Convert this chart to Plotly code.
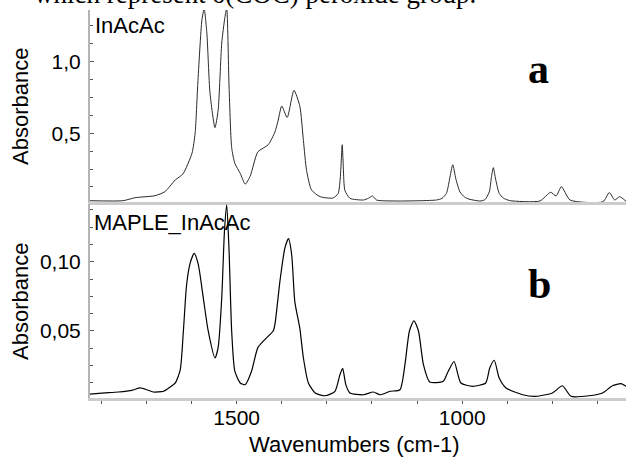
import plotly.graph_objects as go

# ---- data ----
wn_top = [1825, 1752, 1725, 1681, 1659, 1636, 1619, 1599, 1592, 1586, 1577, 1572, 1566, 1559,
          1548, 1541, 1533, 1526, 1522, 1517, 1511, 1504, 1492, 1481, 1470, 1453, 1430, 1415,
          1408, 1400, 1388, 1373, 1360, 1352, 1345, 1334, 1315, 1286, 1275, 1270, 1267, 1266,
          1264, 1262, 1260, 1249, 1219, 1208, 1199, 1190, 1145, 1057, 1045, 1035, 1028, 1021,
          1014, 1005, 995, 985, 961, 950, 940, 935, 931, 926, 918, 909, 895, 828, 804, 792,
          780, 761, 688, 674, 662, 651, 637]
abs_top = [0.029, 0.029, 0.05, 0.064, 0.092, 0.174, 0.216, 0.36, 0.5, 0.85, 1.29, 1.37, 1.2, 0.78,
           0.54, 0.66, 1.13, 1.31, 1.37, 0.85, 0.40, 0.29, 0.22, 0.145, 0.2, 0.37, 0.42, 0.51,
           0.59, 0.69, 0.61, 0.80, 0.69, 0.45, 0.24, 0.104, 0.057, 0.048, 0.08, 0.2, 0.38, 0.42,
           0.3, 0.15, 0.1, 0.046, 0.034, 0.046, 0.062, 0.034, 0.027, 0.034, 0.045, 0.08, 0.18, 0.28,
           0.18, 0.09, 0.055, 0.04, 0.027, 0.035, 0.09, 0.2, 0.26, 0.18, 0.08, 0.048, 0.03, 0.027,
           0.088, 0.062, 0.127, 0.034, 0.022, 0.086, 0.034, 0.057, 0.025]

wn_bot = [1825, 1792, 1762, 1732, 1714, 1699, 1685, 1662, 1648, 1636, 1625, 1618, 1611, 1603,
          1594, 1585, 1574, 1563, 1548, 1541, 1533, 1527, 1522, 1517, 1511, 1504, 1492, 1481,
          1467, 1453, 1437, 1419, 1415, 1404, 1393, 1385, 1378, 1371, 1360, 1352, 1341, 1326,
          1304, 1282, 1271, 1265, 1258, 1249, 1219, 1197, 1182, 1160, 1138, 1127, 1117, 1107,
          1097, 1086, 1072, 1042, 1031, 1018, 1003, 977, 948, 939, 929, 918, 903, 866, 837,
          800, 778, 759, 719, 689, 667, 648, 637]
abs_bot = [0.0045, 0.0053, 0.006, 0.0072, 0.0089, 0.0076, 0.006, 0.0065, 0.0094, 0.0125, 0.022,
           0.05, 0.083, 0.099, 0.106, 0.098, 0.074, 0.05, 0.0305, 0.038, 0.074, 0.122, 0.141,
           0.11, 0.05, 0.021, 0.0125, 0.0113, 0.021, 0.038, 0.044, 0.05, 0.055, 0.086, 0.11,
           0.1166, 0.105, 0.071, 0.052, 0.0305, 0.0125, 0.0053, 0.0033, 0.0065, 0.0185, 0.023,
           0.0113, 0.0053, 0.004, 0.006, 0.004, 0.0065, 0.0076, 0.0257, 0.05, 0.0574, 0.05,
           0.0257, 0.0132, 0.0137, 0.021, 0.028, 0.0125, 0.0101, 0.0125, 0.0233, 0.0289, 0.016,
           0.0089, 0.004, 0.0029, 0.0053, 0.0105, 0.0029, 0.0033, 0.0053, 0.0105, 0.012, 0.0101]

x_ticks = [1500, 1000]
x_ticklabels = ["1500", "1000"]
y_top_ticks = [0.5, 1.0]
y_top_labels = ["0,5", "1,0"]
y_bot_ticks = [0.05, 0.10]
y_bot_labels = ["0,05", "0,10"]

W, H = 626, 457
def px(x):
    return x / W
def py(y):
    return 1 - y / H

fig = go.Figure()
fig.add_trace(go.Scatter(x=wn_top, y=abs_top, mode="lines", xaxis="x", yaxis="y",
                         line=dict(color="#2a2a2a", width=1, shape="spline", smoothing=0.6),
                         showlegend=False, hoverinfo="skip"))
fig.add_trace(go.Scatter(x=wn_bot, y=abs_bot, mode="lines", xaxis="x2", yaxis="y2",
                         line=dict(color="#000000", width=1.2, shape="spline", smoothing=0.6),
                         showlegend=False, hoverinfo="skip"))

tickfont = dict(family="Liberation Sans, Arial", size=21, color="#000")
xr = [1825, 637]
fig.update_layout(
    width=W, height=H,
    margin=dict(l=0, r=0, t=0, b=0),
    paper_bgcolor="white", plot_bgcolor="white",
    xaxis=dict(domain=[px(90), 1], anchor="y", range=xr, showgrid=False, zeroline=False,
               showline=True, linecolor="#cccccc", linewidth=3, showticklabels=False, ticks=""),
    yaxis=dict(domain=[py(202), py(10)], anchor="x", range=[0.02, 1.361], showgrid=False,
               zeroline=False, showline=True, linecolor="#b4b4b4", linewidth=2,
               tickmode="array", tickvals=y_top_ticks, ticktext=y_top_labels,
               ticks="inside", ticklen=4, tickcolor="#555", tickfont=tickfont,
               ticklabelstandoff=3,
               minor=dict(tickmode="linear", tick0=0, dtick=0.125, ticks="inside",
                          ticklen=3, tickcolor="#555")),
    xaxis2=dict(domain=[px(90), 1], anchor="y2", range=xr, showgrid=False, zeroline=False,
                showline=True, linecolor="#cccccc", linewidth=3,
                tickmode="array", tickvals=x_ticks, ticktext=x_ticklabels,
                ticks="outside", ticklen=3, tickcolor="#555", tickfont=tickfont,
                ticklabelstandoff=-4,
                minor=dict(tickmode="linear", tick0=0, dtick=100, ticks="outside",
                           ticklen=3, tickcolor="#555")),
    yaxis2=dict(domain=[py(398), py(204)], anchor="x2", range=[0.00166, 0.1416], showgrid=False,
                zeroline=False, showline=True, linecolor="#b4b4b4", linewidth=2,
                tickmode="array", tickvals=y_bot_ticks, ticktext=y_bot_labels,
                ticks="inside", ticklen=4, tickcolor="#555", tickfont=tickfont,
                ticklabelstandoff=3,
                minor=dict(tickmode="linear", tick0=0, dtick=0.0125, ticks="inside",
                           ticklen=3, tickcolor="#555")),
)

lab = dict(family="Liberation Sans, Arial", size=22, color="#000")
ann = [
    dict(text="which represent δ(COC) peroxide group.", x=px(32), y=py(-6), xanchor="left",
         yanchor="middle", font=dict(family="Liberation Serif, Times New Roman", size=27, color="#000")),
    dict(text="InAcAc", x=px(93), y=py(25.5), xanchor="left", yanchor="middle", font=lab),
    dict(text="MAPLE_InAcAc", x=px(92), y=py(222.5), xanchor="left", yanchor="middle", font=lab),
    dict(text="<b>a</b>", x=px(538), y=py(69), xanchor="center", yanchor="middle",
         font=dict(family="Liberation Serif, Times New Roman", size=42, color="#000")),
    dict(text="<b>b</b>", x=px(539), y=py(284), xanchor="center", yanchor="middle",
         font=dict(family="Liberation Serif, Times New Roman", size=42, color="#000")),
    dict(text="Absorbance", x=px(20), y=py(107), xanchor="center", yanchor="middle",
         textangle=-90, font=lab),
    dict(text="Absorbance", x=px(20), y=py(302), xanchor="center", yanchor="middle",
         textangle=-90, font=lab),
    dict(text="Wavenumbers (cm-1)", x=px(354), y=py(444), xanchor="center", yanchor="middle",
         font=lab),
]
for a in ann:
    a.update(xref="paper", yref="paper", showarrow=False)
fig.update_layout(annotations=ann)

fig.write_html("out.html", config={"displayModeBar": False},
               post_script="document.body.style.margin='0';document.body.style.overflow='hidden';")
